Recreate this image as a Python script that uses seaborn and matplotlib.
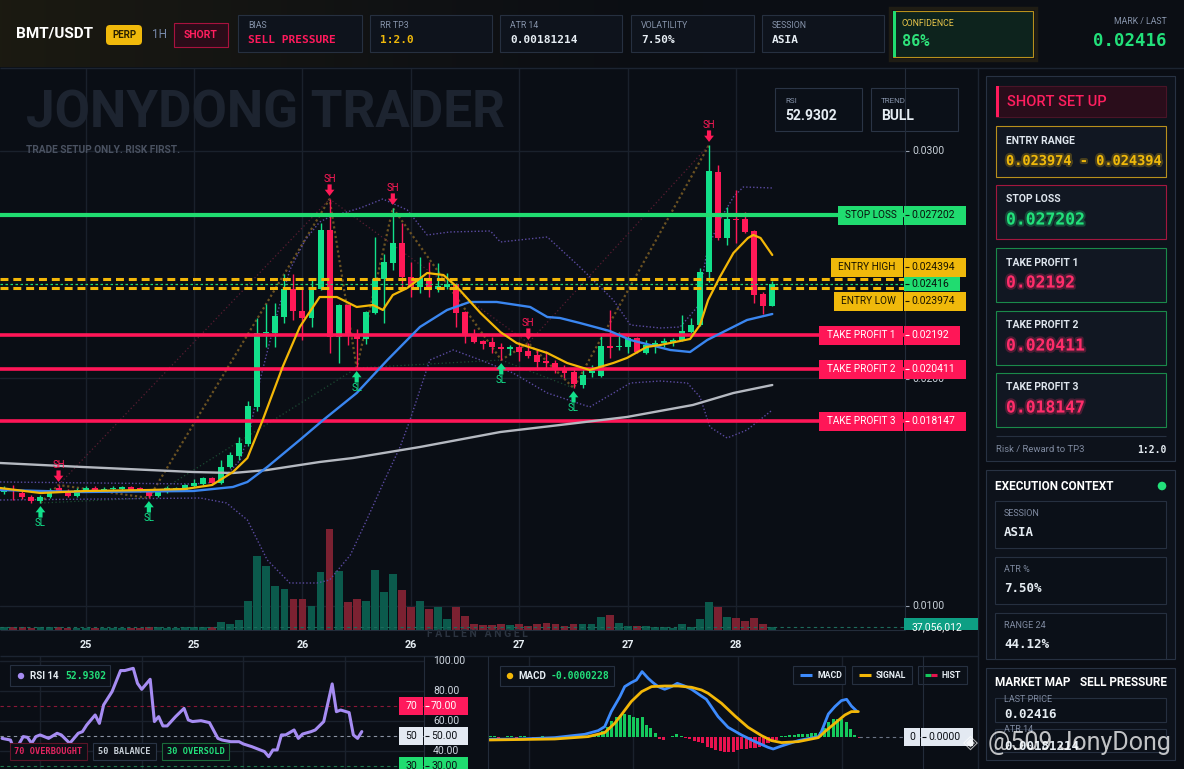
import matplotlib
matplotlib.use('Agg')  # no GUI windows

import numpy as np
import matplotlib.pyplot as plt
import matplotlib.patheffects as pe
from matplotlib.patches import Rectangle, FancyBboxPatch, Circle
import seaborn as sns

sns.set_theme(style='dark')
plt.rcParams['font.family'] = ['Roboto', 'DejaVu Sans']
plt.rcParams['axes.unicode_minus'] = False
MONO = ['DejaVu Sans Mono', 'DejaVu Sans']

# --------------------------------------------------
# Data
# --------------------------------------------------
opens = [0.015011, 0.015143, 0.014967, 0.014791, 0.014615, 0.014791, 0.015187, 0.015055, 0.014835, 0.015099,
         0.015187, 0.015099, 0.015143, 0.015143, 0.015231, 0.015187, 0.015011, 0.014835, 0.015011, 0.015099,
         0.015099, 0.015275, 0.015363, 0.015626, 0.015407, 0.016110, 0.016593, 0.017121, 0.018747, 0.022000,
         0.022000, 0.022703, 0.023934, 0.022967, 0.022659, 0.023934, 0.026528, 0.021824, 0.023231, 0.021912,
         0.021736, 0.022879, 0.024374, 0.025077, 0.025956, 0.024462, 0.024022, 0.024418, 0.023934, 0.024022,
         0.024154, 0.022923, 0.021956, 0.021648, 0.021604, 0.021385, 0.021297, 0.021385, 0.021209, 0.021033,
         0.020769, 0.020681, 0.020462, 0.020286, 0.019714, 0.020242, 0.020110, 0.021429, 0.021385, 0.021385,
         0.021780, 0.021121, 0.021385, 0.021560, 0.021604, 0.021692, 0.022044, 0.022352, 0.024681, 0.029077,
         0.026176, 0.027011, 0.027011, 0.026484, 0.023714, 0.023187]
highs = [0.015275, 0.015319, 0.015055, 0.014879, 0.014879, 0.015187, 0.015319, 0.015143, 0.015187, 0.015275,
         0.015275, 0.015231, 0.015275, 0.015275, 0.015275, 0.015231, 0.015099, 0.015055, 0.015275, 0.015231,
         0.015363, 0.015582, 0.015670, 0.015670, 0.016418, 0.016769, 0.017429, 0.019011, 0.022659, 0.023275,
         0.023319, 0.024593, 0.024593, 0.023978, 0.024330, 0.026835, 0.027890, 0.023275, 0.023275, 0.022176,
         0.022967, 0.026220, 0.025473, 0.027495, 0.026835, 0.025121, 0.025341, 0.025121, 0.025077, 0.024637,
         0.024198, 0.022967, 0.022176, 0.021692, 0.021824, 0.021560, 0.021473, 0.021604, 0.021560, 0.021253,
         0.021209, 0.020813, 0.020593, 0.020462, 0.020506, 0.020593, 0.021868, 0.023011, 0.022044, 0.021912,
         0.021824, 0.021692, 0.021692, 0.021780, 0.021780, 0.022791, 0.022659, 0.024857, 0.030264, 0.029385,
         0.027539, 0.028286, 0.027319, 0.026528, 0.023802, 0.024286]
lows = [0.014923, 0.014659, 0.014703, 0.014527, 0.014527, 0.014747, 0.015011, 0.014791, 0.014791, 0.015055,
        0.015011, 0.015055, 0.015099, 0.015099, 0.015055, 0.015011, 0.014747, 0.014791, 0.014967, 0.015055,
        0.015055, 0.015231, 0.015319, 0.015363, 0.015363, 0.016066, 0.016418, 0.017033, 0.018571, 0.021385,
        0.021385, 0.022440, 0.022571, 0.021692, 0.022264, 0.023890, 0.021121, 0.020681, 0.021473, 0.020462,
        0.021517, 0.022835, 0.022440, 0.024769, 0.023890, 0.023582, 0.023758, 0.023582, 0.023802, 0.023934,
        0.022264, 0.021560, 0.021560, 0.021297, 0.021121, 0.020813, 0.021033, 0.020769, 0.020901, 0.020374,
        0.020374, 0.020242, 0.020022, 0.019582, 0.019582, 0.020066, 0.020066, 0.020901, 0.021253, 0.021121,
        0.021121, 0.021077, 0.021121, 0.021385, 0.021429, 0.021648, 0.022000, 0.022308, 0.024242, 0.026088,
        0.025868, 0.025956, 0.026400, 0.023319, 0.022835, 0.023187]
closes = [0.015187, 0.015055, 0.014791, 0.014615, 0.014791, 0.015099, 0.015055, 0.014835, 0.015099, 0.015187,
          0.015099, 0.015143, 0.015187, 0.015231, 0.015099, 0.015055, 0.014835, 0.015011, 0.015187, 0.015187,
          0.015319, 0.015407, 0.015626, 0.015407, 0.016110, 0.016637, 0.017165, 0.018791, 0.022000, 0.022044,
          0.022747, 0.023934, 0.022967, 0.022659, 0.023934, 0.026528, 0.021824, 0.023231, 0.021912, 0.021736,
          0.022923, 0.024374, 0.025121, 0.025956, 0.024462, 0.024022, 0.024418, 0.023934, 0.024066, 0.024154,
          0.022879, 0.021956, 0.021604, 0.021517, 0.021385, 0.021297, 0.021385, 0.021165, 0.020989, 0.020725,
          0.020681, 0.020462, 0.020242, 0.019758, 0.020154, 0.020462, 0.021429, 0.021341, 0.021429, 0.021780,
          0.021165, 0.021473, 0.021560, 0.021648, 0.021692, 0.022088, 0.022352, 0.024681, 0.029121, 0.026176,
          0.027011, 0.026967, 0.026440, 0.023670, 0.023187, 0.024160]
# volume in millions
volumes = [37, 37, 37, 25, 37, 37, 37, 25, 25, 25, 25, 25, 25, 25, 25, 25, 37, 37, 25, 25, 37, 37, 37, 37,
           99, 74, 124, 358, 914, 790, 543, 506, 383, 383, 296, 716, 1247, 729, 346, 383, 358, 741, 469, 692,
           494, 284, 358, 259, 284, 136, 284, 173, 74, 62, 62, 74, 62, 74, 49, 74, 86, 74, 49, 74, 74, 74,
           161, 185, 86, 49, 49, 49, 37, 37, 25, 74, 37, 136, 346, 284, 161, 148, 111, 148, 74, 37.056012]
last_volume = 37056012

fast_idx = [-0.48, 4, 9, 16, 20, 23, 25.3, 26.9, 28.6, 30.8, 32.7, 34.9, 36.8, 39.0, 40.8, 41.9, 43.0, 44.6,
            46.8, 48.6, 50.1, 52.7, 54.9, 56.7, 60.1, 62.3, 64.8, 67.4, 68.9, 71.1, 72.6, 75.9, 77.0, 77.9,
            79.2, 80.7, 82.3, 82.9, 83.7, 85]
fast_val = [0.015187, 0.014967, 0.015055, 0.015099, 0.015143, 0.015319, 0.015890, 0.016506, 0.018176, 0.020506,
            0.022264, 0.023582, 0.023582, 0.023143, 0.023231, 0.023011, 0.023670, 0.023978, 0.024637, 0.024549,
            0.024022, 0.022879, 0.022044, 0.021560, 0.021121, 0.020681, 0.020374, 0.020681, 0.020901, 0.021385,
            0.021473, 0.021736, 0.022352, 0.023451, 0.024462, 0.025517, 0.026176, 0.026308, 0.026176, 0.025429]
mid_idx = [-0.48, 8.7, 20.9, 25.3, 26.9, 29.1, 32.7, 35.3, 39.0, 42.4, 46.0, 49.0, 51.5, 54.5, 58.2, 60.1,
           61.5, 63.7, 67.0, 69.3, 71.5, 73.7, 75.9, 77.8, 80.0, 82.2, 85.0]
mid_val = [0.015099, 0.015011, 0.015055, 0.015231, 0.015451, 0.016110, 0.017297, 0.018176, 0.019363, 0.020813,
           0.022264, 0.023011, 0.023363, 0.023363, 0.023143, 0.022703, 0.022659, 0.022440, 0.022088, 0.021692,
           0.021473, 0.021253, 0.021165, 0.021692, 0.022132, 0.022571, 0.022835]
slow_idx = [-0.48, 8.7, 20.9, 25.3, 29.1, 34.9, 38.6, 46.0, 54.9, 61.5, 68.9, 76.2, 80.7, 85.0]
slow_val = [0.016286, 0.016110, 0.015890, 0.015846, 0.015978, 0.016330, 0.016505, 0.016989, 0.017648,
            0.017956, 0.018308, 0.018835, 0.019363, 0.019714]
bb_up_idx = [-0.48, 20.9, 23.9, 26.1, 27.2, 28.3, 30.0, 31.6, 33.3, 34.9, 36.0, 39.4, 41.9, 44.6, 46.8, 49.3,
             53.8, 54.9, 60.1, 63.7, 67.4, 69.3, 72.6, 74.8, 76.7, 77.8, 79.2, 80.7, 81.8, 85.0]
bb_up_val = [0.015451, 0.015363, 0.015451, 0.016418, 0.017736, 0.019934, 0.022571, 0.024769, 0.026088,
             0.026879, 0.027099, 0.027495, 0.027890, 0.027407, 0.026308, 0.026440, 0.026484, 0.026000,
             0.026220, 0.024901, 0.023451, 0.022352, 0.022220, 0.022264, 0.023143, 0.025648, 0.026967,
             0.027978, 0.028418, 0.028374]
bb_lo_idx = [-0.48, 21.7, 24.6, 26.9, 29.1, 31.6, 34.6, 36.0, 38.3, 40.1, 42.1, 43.8, 44.9, 47.1, 49.7, 52.7,
             56.3, 60.1, 64.8, 69.3, 72.6, 75.6, 77.0, 78.1, 80.0, 82.2, 85.0]
bb_lo_val = [0.014659, 0.014747, 0.014527, 0.013780, 0.012022, 0.011011, 0.011011, 0.011143, 0.012242,
             0.013780, 0.015539, 0.016989, 0.018176, 0.020813, 0.021253, 0.020813, 0.020242, 0.019363,
             0.018747, 0.019802, 0.019890, 0.019802, 0.019187, 0.017868, 0.017385, 0.017736, 0.018615]

swing_high_idx = [6, 36, 43, 58, 78]
swing_low_idx = [4, 16, 39, 55, 63]
zigzag_idx = [4, 6, 16, 36, 39, 43, 55, 58, 63, 78]
high_line_idx = [6, 36, 58, 78]
low_line_idx = [4, 16, 39, 55, 63]

stop_loss = 0.027202
entry_high = 0.024394
entry_low = 0.023974
last_price = 0.02416
tp1, tp2, tp3 = 0.02192, 0.020411, 0.018147

date_idx = [9, 21, 33, 45, 57, 69, 81]
date_labels = ['25', '25', '26', '26', '27', '27', '28']

rsi_idx = [0, 2, 3, 5, 6, 7, 8, 9, 11, 13, 14, 16, 18, 19, 20, 22, 23, 24, 26, 28, 29, 31, 32, 33, 35, 36,
           37, 38, 39, 41, 43, 44, 45, 47, 49, 51, 52, 54, 56, 57, 59, 60, 62, 63, 64, 65, 66, 67, 69, 70,
           71, 73, 74, 76, 78, 79, 80, 82, 83, 84, 85]
rsi_val = [48.4, 47.3, 39.6, 49.6, 49.1, 45.1, 49.6, 50.7, 48.4, 51.8, 50.7, 45.1, 51.8, 52.9, 57.3, 64.0,
           58.4, 70.7, 79.6, 93.6, 93.6, 95.1, 85.1, 81.1, 87.8, 59.6, 62.9, 56.7, 56.7, 62.9, 68.4, 60.7,
           59.6, 60.2, 58.9, 48.4, 47.3, 46.2, 46.2, 44.7, 42.9, 41.8, 39.6, 36.2, 40.7, 40.7, 50.7, 50.7,
           54.0, 48.4, 51.3, 52.9, 54.0, 59.6, 84.7, 66.2, 67.3, 65.6, 50.7, 48.4, 52.93]

macd_idx = [-0.5, 7.2, 14.9, 21.8, 24.9, 26.4, 27.9, 29.9, 31.0, 32.5, 33.7, 35.0, 36.4, 37.5, 38.7, 40.2,
            41.8, 43.1, 44.8, 46.4, 48.3, 49.8, 52.5, 54.8, 57.9, 61.0, 64.0, 65.2, 67.1, 71.0, 75.6, 76.3,
            77.9, 79.4, 80.9, 82.1, 83.2, 84.4]
macd_val = [-2.0, -1.7, -0.3, 3.0, 6.7, 10.7, 25.7, 40.7, 50.7, 54.7, 57.3, 65.7, 59.0, 54.7, 50.7, 48.0,
            50.7, 54.0, 51.3, 48.0, 42.3, 38.0, 20.7, 10.0, 2.3, -4.3, -10.0, -11.7, -8.7, -3.3, 0.7, 5.7,
            23.3, 30.7, 36.7, 38.0, 31.3, 26.3]
signal_idx = [-0.5, 14.9, 22.6, 26.4, 28.7, 30.2, 32.5, 34.9, 37.2, 40.2, 43.3, 46.4, 48.7, 50.2, 53.3,
              56.4, 59.4, 62.5, 64.8, 67.1, 71.0, 75.6, 77.1, 79.4, 81.7, 83.2, 84.8]
signal_val = [-2.7, -1.7, 0.7, 4.7, 14.0, 22.3, 35.7, 45.7, 50.7, 51.3, 51.3, 50.0, 47.3, 44.0, 34.0, 21.3,
              10.0, 1.7, -3.3, -5.3, -4.3, -0.3, 5.7, 14.0, 22.3, 25.7, 25.7]
hist_val = [1, 1, -0.7, 0.7, 1, 1, -0.7, 1, 1, 0.7, -0.5, 0.7, 1, 0.7, -0.5, 0.7, 1, 1, 0.7, 1, 1, 1.3, 1.7,
            2.3, 3, 4, 6.7, 10.7, 16.3, 20, 22.3, 23.3, 22.3, 20, 19, 20, 12.3, 9, 4, -1.7, -2.7, 0.7, 1.3,
            3, 1.7, -1, -1.7, -3.3, -4.3, -6, -9.3, -11, -12.7, -13.3, -14.3, -15, -14.3, -12.7, -12, -12,
            -11, -11, -9.3, -7.7, -6, -4.3, -2.7, 1.5, 1.7, 2.3, 2.3, 3, 3, 3, 4, 4, 5.7, 9, 15.7, 18, 18,
            18, 15.7, 8, 2.3, -0.3]
MACD_UNIT = 1e-5  # macd values above are in units of 1e-5

# --------------------------------------------------
# Colours
# --------------------------------------------------
BG = '#0a0e15'
GRID = '#1a212c'
EDGE = '#232c3a'
GREEN = '#12e08a'
RED = '#ff1957'
LVL_GREEN = '#20dc70'
LVL_RED = '#ff1657'
YEL = '#f3b707'
BLUE = '#3a86f0'
GREY = '#b5b9c1'
PURP = '#5a4aa0'
BROWN = '#6b5222'
TXT = '#e6edf3'
MUTED = '#8693aa'

W, H = 1184, 769
XL = (-0.48, 99.69)

fig = plt.figure(figsize=(W / 100, H / 100), dpi=100)
fig.patch.set_facecolor(BG)


def px_axes(x0, y0, x1, y1, z):
    a = fig.add_axes([x0 / W, 1 - y1 / H, (x1 - x0) / W, (y1 - y0) / H], zorder=z)
    a.set_xticks([])
    a.set_yticks([])
    for s in a.spines.values():
        s.set_visible(False)
    return a


# background layer
bg = fig.add_axes([0, 0, 1, 1], zorder=0)
bg.set_xlim(0, W)
bg.set_ylim(H, 0)
bg.axis('off')
bg.add_patch(Rectangle((0, 0), W, 67, fc='#0b0e14', ec='none'))
grad = np.zeros((1, 256, 4))
grad[..., 0], grad[..., 1], grad[..., 2] = 0.12, 0.11, 0.07
grad[..., 3] = np.linspace(0.9, 0, 256) ** 1.4
bg.imshow(grad, extent=(0, 720, 67, 0), aspect='auto', zorder=1)
bg.add_patch(Rectangle((978, 68), W - 978, H - 68, fc='#0a0d14', ec='none'))

# overlay layer (pixel coordinates)
ov = fig.add_axes([0, 0, 1, 1], zorder=20)
ov.set_xlim(0, W)
ov.set_ylim(H, 0)
ov.axis('off')
ov.patch.set_alpha(0)


def R(x0, y0, x1, y1, fc='none', ec='none', lw=0.8, alpha=1.0, z=25):
    p = Rectangle((x0, y0), x1 - x0, y1 - y0, fc=fc, ec=ec, lw=lw, alpha=alpha, zorder=z)
    ov.add_patch(p)
    return p


def T(x, y, s, size, color=TXT, weight='normal', ha='left', va='center', family=None,
      alpha=1.0, z=30, glow=None):
    t = ov.text(x, y, s, fontsize=size, color=color, fontweight=weight, ha=ha, va=va,
                family=family or ['Roboto', 'DejaVu Sans'], alpha=alpha, zorder=z)
    if glow:
        t.set_path_effects([pe.withStroke(linewidth=3, foreground=glow, alpha=0.25)])
    return t


def L(xs, ys, color, lw=0.8, z=26, **kw):
    ov.plot(xs, ys, color=color, lw=lw, zorder=z, solid_capstyle='butt', **kw)


# --------------------------------------------------
# Main price chart
# --------------------------------------------------
ax = px_axes(0, 68, 905, 630, 2)
axv = ax.twinx()
axv.set_zorder(1)
ax.set_zorder(2)
ax.patch.set_visible(False)
axv.set_facecolor(BG)
for a in (ax, axv):
    a.set_xlim(*XL)
    a.set_xticks([])
    a.set_yticks([])
    for s in a.spines.values():
        s.set_visible(False)
ax.set_ylim(0.008945, 0.033648)
axv.set_ylim(0, 6941)

# grid drawn on the volume layer so bars sit on it
for gy in (0.0100, 0.0200, 0.0300):
    yv = (gy - 0.008945) / (0.033648 - 0.008945) * 6941
    axv.axhline(yv, color=GRID, lw=1, zorder=0)
for gi in date_idx:
    axv.axvline(gi, color=GRID, lw=1, zorder=0)

idx = np.arange(len(closes))
o, h, l, c = map(np.array, (opens, highs, lows, closes))
up = c >= o
cols = np.where(up, GREEN, RED)
vcols = np.where(up, '#0b5a4c', '#7b2131')
axv.bar(idx, volumes, width=0.86, color=vcols, linewidth=0, edgecolor='none', zorder=2)
axv.axhline(volumes[-1], color='#1d6b5c', lw=0.8, ls=(0, (3, 3)), zorder=3)

ax.vlines(idx, l, h, colors=cols, lw=1, zorder=3)
body = np.maximum(np.abs(c - o), 0.00005)
ax.bar(idx, body, bottom=np.minimum(o, c), width=0.66, color=cols, linewidth=0,
       edgecolor='none', zorder=3)

# trend / swing lines
ax.plot(zigzag_idx, [l[i] if i in swing_low_idx else h[i] for i in zigzag_idx],
        color=BROWN, lw=1.6, ls=(0, (1, 1.2)), zorder=2.5)
ax.plot(high_line_idx, h[high_line_idx], color='#5a1d32', lw=0.9, ls=(0, (1, 2)), zorder=2.5)
ax.plot(low_line_idx, l[low_line_idx], color='#1c4a33', lw=0.9, ls=(0, (1, 2)), zorder=2.5)

# bands and moving averages
sns.lineplot(x=bb_up_idx, y=bb_up_val, ax=ax, color=PURP, lw=1, ls=(0, (1, 1.5)),
             estimator=None, sort=False, zorder=2.6)
sns.lineplot(x=bb_lo_idx, y=bb_lo_val, ax=ax, color=PURP, lw=1, ls=(0, (1, 1.5)),
             estimator=None, sort=False, zorder=2.6)
sns.lineplot(x=slow_idx, y=slow_val, ax=ax, color=GREY, lw=1.7, estimator=None, sort=False, zorder=5)
sns.lineplot(x=mid_idx, y=mid_val, ax=ax, color=BLUE, lw=1.7, estimator=None, sort=False, zorder=5)
sns.lineplot(x=fast_idx, y=fast_val, ax=ax, color=YEL, lw=1.6, estimator=None, sort=False, zorder=5)

# trade levels
ax.axhline(stop_loss, color=LVL_GREEN, lw=3, zorder=4)
for lv in (tp1, tp2, tp3):
    ax.axhline(lv, color=LVL_RED, lw=2.6, zorder=4)
for lv in (entry_high, entry_low):
    ax.axhline(lv, color=YEL, lw=2.2, ls=(0, (2.6, 1.6)), zorder=4)
ax.axhline(last_price, color=LVL_GREEN, lw=0.9, ls=(0, (2, 2)), zorder=4)

# swing markers
arrow = 'simple,head_length=0.45,head_width=0.7,tail_width=0.3'
for i in swing_high_idx:
    ax.annotate('', xy=(i, h[i]), xytext=(0, 10.5), textcoords='offset points',
                arrowprops=dict(arrowstyle=arrow, fc=RED, ec='none', shrinkA=0, shrinkB=2.2,
                                mutation_scale=10), zorder=7)
    ax.annotate('SH', xy=(i, h[i]), xytext=(0, 14.5), textcoords='offset points',
                ha='center', va='center', fontsize=7, color=RED, zorder=7)
for i in swing_low_idx:
    ax.annotate('', xy=(i, l[i]), xytext=(0, -10.5), textcoords='offset points',
                arrowprops=dict(arrowstyle=arrow, fc=GREEN, ec='none', shrinkA=0, shrinkB=2.2,
                                mutation_scale=10), zorder=7)
    ax.annotate('SL', xy=(i, l[i]), xytext=(0, -14.5), textcoords='offset points',
                ha='center', va='center', fontsize=7, color=GREEN, zorder=7)

# --------------------------------------------------
# RSI panel
# --------------------------------------------------
axr = px_axes(0, 656, 424, 769, 2)
axr.set_facecolor(BG)
axr.set_xlim(*XL)
axr.set_ylim(28.0, 103.3)
for gy in (40, 60, 80, 100):
    axr.axhline(gy, color=GRID, lw=1, zorder=0)
for gi in date_idx[::2]:
    axr.axvline(gi, color=GRID, lw=1, zorder=0)
axr.axhline(70, color='#8a1838', lw=0.8, ls=(0, (3, 3)))
axr.axhline(50, color='#8a93a3', lw=0.8, ls=(0, (3, 3)))
axr.axhline(30, color='#1f7a4d', lw=0.8, ls=(0, (3, 3)))
sns.lineplot(x=rsi_idx, y=rsi_val, ax=axr, color='#a68cf2', lw=2.2, estimator=None, sort=False, zorder=4)

# --------------------------------------------------
# MACD panel
# --------------------------------------------------
axm = px_axes(488, 656, 923, 769, 2)
axm.set_facecolor(BG)
axm.set_xlim(*XL)
axm.set_ylim(-0.000317, 0.000813)
for gi in date_idx[::2]:
    axm.axvline(gi, color=GRID, lw=1, zorder=0)
hv = np.array(hist_val) * MACD_UNIT
axm.bar(np.arange(len(hv)), hv, width=0.7, color=np.where(hv >= 0, '#14c95c', '#e8124f'),
        linewidth=0, edgecolor='none', zorder=2)
axm.hlines(0, 85, XL[1], color='#6b7485', lw=0.8, ls=(0, (3, 3)))
sns.lineplot(x=macd_idx, y=np.array(macd_val) * MACD_UNIT, ax=axm, color='#3d8bfd', lw=2,
             estimator=None, sort=False, zorder=4)
sns.lineplot(x=signal_idx, y=np.array(signal_val) * MACD_UNIT, ax=axm, color=YEL, lw=2,
             estimator=None, sort=False, zorder=4)

for a in (ax, axv, axr, axm):
    a.set_xlabel('')
    a.set_ylabel('')
    a.set_xticks([])
    a.set_yticks([])

# --------------------------------------------------
# Frame lines
# --------------------------------------------------
L([0, W], [67.5, 67.5], '#1c2431', 1)
L([978, 978], [68, H], '#1c2431', 1)
L([905, 905], [68, 630], EDGE, 0.8)
L([0, 905], [630, 630], EDGE, 0.8)
L([0, 978], [656, 656], '#1c2431', 1)
L([424, 424], [656, H], EDGE, 0.8)
L([488, 488], [656, H], EDGE, 0.8)
L([923, 923], [656, H], EDGE, 0.8)

# --------------------------------------------------
# Header
# --------------------------------------------------
T(16, 34, 'BMT/USDT', 11, '#ffffff', 'bold')
ov.add_patch(FancyBboxPatch((106, 25), 36, 20, boxstyle='round,pad=0,rounding_size=4',
                            fc='#f0b90b', ec='none', zorder=25))
T(124, 35, 'PERP', 7, '#2a2100', 'bold', ha='center')
T(152, 35, '1H', 8.5, '#7688a8')
R(174, 23, 228, 47, fc='#2b0c19', ec='#a8123e')
T(201, 35, 'SHORT', 7.5, '#ff1f5f', 'bold', ha='center')

header_boxes = [(238, 362, 'BIAS', 'SELL PRESSURE', '#ff1a5c'),
                (370, 492, 'RR TP3', '1:2.0', '#f0b90b'),
                (500, 622, 'ATR 14', '0.00181214', TXT),
                (631, 754, 'VOLATILITY', '7.50%', TXT),
                (762, 884, 'SESSION', 'ASIA', TXT)]
for x0, x1, lab, val, col in header_boxes:
    R(x0, 15, x1, 52, fc='#0e131c', ec='#263040')
    T(x0 + 10, 26, lab, 6.3, MUTED)
    T(x0 + 10, 40, val, 8, col, 'bold', family=MONO)

R(890, 8, 1036, 60, fc='none', ec='#b8901c', lw=2.5, alpha=0.12, z=24)
R(893, 11, 1033, 57, fc='#0d231d', ec='#b8901c')
R(893, 11, 896, 57, fc='#20dc70', z=26)
T(902, 23, 'CONFIDENCE', 6.3, '#e8c54a')
T(902, 41, '86%', 11, '#2ee27a', 'bold', family=MONO)
T(1167, 22, 'MARK / LAST', 6.3, MUTED, ha='right')
T(1167, 41, '0.02416', 12.5, '#22e07a', 'bold', ha='right', family=MONO)

# --------------------------------------------------
# Chart decorations
# --------------------------------------------------
T(26, 114, 'JONYDONG TRADER', 37, '#1d2430', 'bold', z=1.5)
T(26, 150, 'TRADE SETUP ONLY. RISK FIRST.', 7.3, '#4a5261', 'bold')
for x0, x1, lab, val in [(775, 862, 'RSI', '52.9302'), (871, 958, 'TREND', 'BULL')]:
    R(x0, 88, x1, 131, fc='#0b1018', ec='#2a3445')
    T(x0 + 10, 101, lab, 5.8, MUTED)
    T(x0 + 10, 116, val, 10, TXT, 'bold')

for val, yy in [('0.0300', 151), ('0.0200', 379), ('0.0100', 606)]:
    L([905, 909], [yy, yy], '#9aa3b2', 0.8, z=22)
    T(912, yy, val, 7.5, '#c9d1d9', z=22)


def tag(y, label, value, lx0, vx1, fc, tc, hh=19):
    if label:
        R(lx0, y - hh / 2, 903, y + hh / 2, fc=fc, z=27)
        T((lx0 + 903) / 2, y, label, 7.2, tc, ha='center', z=28)
    R(904, y - hh / 2, vx1, y + hh / 2, fc=fc, z=27)
    L([905, 909], [y, y], tc, 0.8, z=28)
    T(911, y, value, 7.5, tc, z=28)


tag(215, 'STOP LOSS', f'{stop_loss:.6f}', 838, 966, LVL_GREEN, '#08120c')
tag(267, 'ENTRY HIGH', f'{entry_high:.6f}', 831, 966, '#f0b90b', '#1a1400')
tag(284, None, f'{last_price:.5f}', 904, 960, LVL_GREEN, '#08120c', hh=14)
tag(301, 'ENTRY LOW', f'{entry_low:.6f}', 834, 966, '#f0b90b', '#1a1400')
tag(335, 'TAKE PROFIT 1', f'{tp1:.5f}', 819, 960, LVL_RED, '#ffffff')
tag(369, 'TAKE PROFIT 2', f'{tp2:.6f}', 819, 966, LVL_RED, '#ffffff')
tag(421, 'TAKE PROFIT 3', f'{tp3:.6f}', 819, 966, LVL_RED, '#ffffff')

vbox = R(904, 618, 978, 630, fc='#0e9f84', z=27)
vt = T(911, 627, f'{last_volume:,}', 7.5, '#ffffff', z=28)
vt.set_clip_path(vbox)
T(427, 634, 'F A L L E N   A N G E L', 7.5, '#2b333f', 'bold', z=22)

for gi, lab in zip(date_idx, date_labels):
    T(4.34 + 9.035 * gi, 645, lab, 7.8, TXT, 'bold', ha='center')

# RSI overlay
R(10, 665, 110, 686, fc='#0b1018', ec='#263040')
ov.add_patch(Circle((21, 676), 3.2, fc='#a68cf2', ec='none', zorder=27))
T(30, 676, 'RSI 14', 7, TXT, 'bold')
T(65, 676, '52.9302', 7, '#22e07a', 'bold', family=MONO)
for x0, x1, s, ec, tc in [(10, 87, '70 OVERBOUGHT', '#5a1428', '#e0245e'),
                          (93, 156, '50 BALANCE', '#2a3445', '#c9d1d9'),
                          (162, 229, '30 OVERSOLD', '#1a6a3a', '#22e07a')]:
    R(x0, 743, x1, 760, fc='#0b0f16', ec=ec)
    T((x0 + x1) / 2, 751.5, s, 6.2, tc, 'bold', ha='center', family=MONO)
for s, yy in [('100.00', 661), ('80.00', 691), ('60.00', 721), ('40.00', 751)]:
    T(433, yy, s, 7.5, '#cfd6e0')
for lvl, yy, fc, tc in [(70, 706, '#ff1a5c', '#ffffff'), (50, 736, '#e3e9f2', '#0b0e14'),
                        (30, 766, '#20dc70', '#0b0e14')]:
    R(399, yy - 9, 423, yy + 9, fc=fc, z=27)
    R(424, yy - 9, 468, yy + 9, fc=fc, z=27)
    T(411, yy, f'{lvl}', 7.5, tc, ha='center', z=28)
    L([425, 429], [yy, yy], tc, 0.8, z=28)
    T(431, yy, f'{lvl:.2f}', 7.5, tc, z=28)

# MACD overlay
R(500, 666, 614, 686, fc='#0b1018', ec='#263040')
ov.add_patch(Circle((510, 676), 3.2, fc=YEL, ec='none', zorder=27))
T(518, 676, 'MACD', 7, TXT, 'bold')
T(551, 676, '-0.0000228', 7, '#22e07a', 'bold', family=MONO)
for x0, x1, s, col in [(793, 845, 'MACD', '#3d8bfd'), (852, 912, 'SIGNAL', YEL), (918, 967, 'HIST', None)]:
    R(x0, 666, x1, 684, fc='#0b1018', ec='#263040')
    if col:
        L([x0 + 7, x0 + 19], [675, 675], col, 2.2, z=27)
    else:
        L([x0 + 7, x0 + 13], [675, 675], '#14c95c', 2.2, z=27)
        L([x0 + 13, x0 + 19], [675, 675], '#e8124f', 2.2, z=27)
    T(x0 + 24, 675, s, 6.3, TXT, 'bold')
R(904, 728, 920, 746, fc='#e3e9f2', z=27)
R(921, 728, 973, 746, fc='#e3e9f2', z=27)
T(912, 737, '0', 7.5, '#0b0e14', ha='center', z=28)
L([922, 926], [737, 737], '#0b0e14', 0.8, z=28)
T(928, 737, '0.0000', 7.5, '#0b0e14', z=28)

# --------------------------------------------------
# Right side panels
# --------------------------------------------------
R(986, 76, 1175, 461, fc='#0d121b', ec='#283243')
R(996, 86, 1166, 117, fc='#2a0d1b', ec='#4a1428')
R(996, 86, 999, 117, fc='#ff1a5c', z=26)
T(1007, 101.5, 'SHORT SET UP', 10.5, '#ff1f5f', 'medium')
setup_boxes = [(126, 177, '#b8901c', 'ENTRY RANGE', f'{entry_low:.6f} - {entry_high:.6f}', '#f0b90b', 9.8),
               (185, 239, '#a3173f', 'STOP LOSS', f'{stop_loss:.6f}', '#22e07a', 11.8),
               (248, 302, '#1a8a4a', 'TAKE PROFIT 1', f'{tp1:.5f}', '#ff2d6a', 11.8),
               (311, 365, '#1a8a4a', 'TAKE PROFIT 2', f'{tp2:.6f}', '#ff2d6a', 11.8),
               (373, 427, '#1a8a4a', 'TAKE PROFIT 3', f'{tp3:.6f}', '#ff2d6a', 11.8)]
for y0, y1, ec, lab, val, col, fs in setup_boxes:
    R(996, y0, 1166, y1, fc='#111722', ec=ec)
    T(1006, y0 + 14.5, lab, 7.5, '#dfe6ee', 'bold')
    T(1006, y0 + 35, val, fs, col, 'bold', family=MONO, glow=col)
L([996, 1166], [436, 436], '#263040', 0.8)
T(996, 450, 'Risk / Reward to TP3', 6.8, '#7f8aa0')
T(1166, 450, '1:2.0', 7, TXT, 'bold', ha='right', family=MONO)

R(986, 470, 1175, 659, fc='#0d121b', ec='#283243')
T(995, 486, 'EXECUTION CONTEXT', 8.5, '#ffffff', 'bold')
ov.add_patch(Circle((1162, 486), 4.3, fc='#22e07a', ec='none', zorder=27))
for y0, y1, lab, val in [(501, 548, 'SESSION', 'ASIA'), (557, 604, 'ATR %', '7.50%'),
                         (613, 659, 'RANGE 24', '44.12%')]:
    R(995, y0, 1166, y1, fc='#0b1018', ec='#263040')
    T(1004, y0 + 12.5, lab, 6.5, '#7f8aa0')
    T(1004, y0 + 31, val, 9, TXT, 'bold', family=MONO)

R(986, 668, 1175, 760, fc='#0d121b', ec='#283243')
T(995, 683, 'MARKET MAP', 8.5, '#ffffff', 'bold')
T(1167, 683, 'SELL PRESSURE', 8.5, '#ffffff', 'bold', ha='right')
for y0, y1, lab, val in [(698, 722, 'LAST PRICE', '0.02416'), (729, 752, 'ATR 14', '0.00181214')]:
    R(995, y0, 1166, y1, fc='#0b1018', ec='#263040')
    T(1004, y0 + 1, lab, 6.5, '#7f8aa0')
    T(1004, y0 + 17, val, 9, TXT, 'bold', family=MONO)

# watermark
T(970, 743, '\u25c8', 14, '#ffffff', alpha=0.7, ha='center', z=40)
T(988, 743, '@509 JonyDong', 18, '#ffffff', alpha=0.75, z=40)

fig.savefig('out.png', dpi=100, facecolor=BG)
plt.close(fig)
